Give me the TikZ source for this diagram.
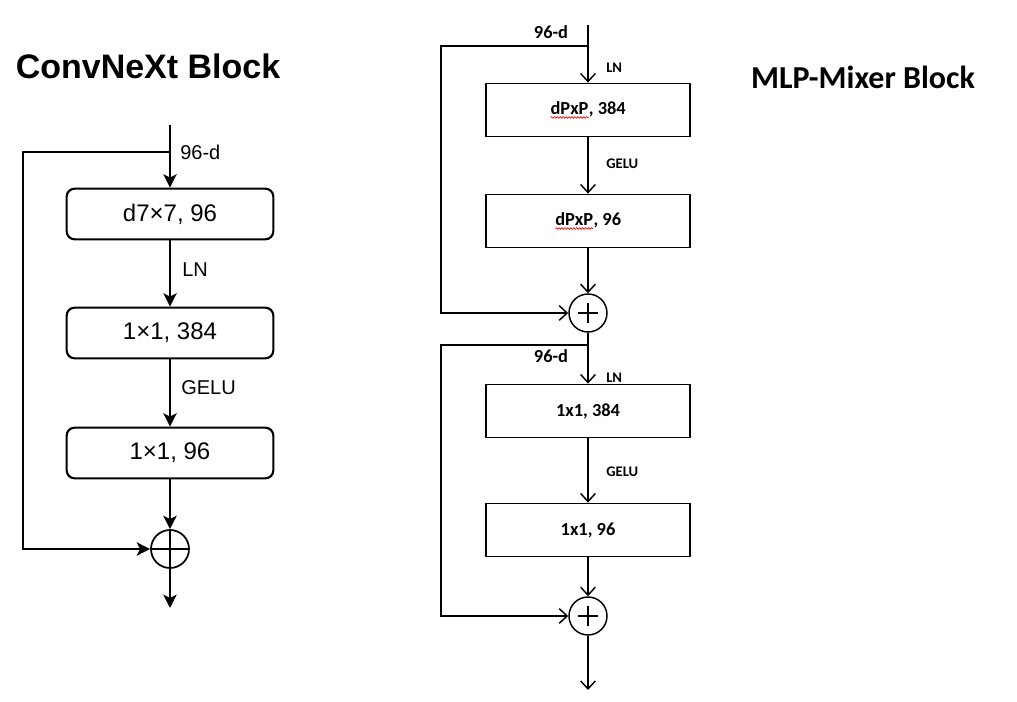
\documentclass[tikz,border=0pt]{standalone}
\usepackage{fontspec}
\usepackage{tikz}
\usetikzlibrary{arrows.meta,calc,positioning,decorations.pathmorphing}

\newfontfamily\lsans{Liberation Sans}
\newfontfamily\carl{Carlito}
\newcommand\squig[1]{\tikz[baseline=(w.base), x=1pt, y=1pt]{%
    \node[draw=none, inner sep=0pt, outer sep=0pt, minimum width=0pt, minimum height=0pt] (w) {#1};
    \draw[red, line width=0.5pt, decorate, decoration={snake, amplitude=0.6pt, segment length=2.2pt}]
        ($(w.base west)+(0,-2.4pt)$) -- ($(w.base east)+(0,-2.4pt)$);}}

\tikzset{
    cbox/.style={draw, line width=1.6pt, rounded corners=6pt, minimum width=155pt,
        minimum height=38pt, font=\lsans\fontsize{18}{20}\selectfont},
    clab/.style={anchor=west, inner sep=0pt, font=\lsans\fontsize{15}{17}\selectfont},
    carrow/.style={line width=1.6pt, -{Stealth[length=10pt,width=10pt,inset=2.5pt]}},
    csum/.style={draw, line width=1.3pt, circle, minimum size=28.5pt, inner sep=0pt,
        path picture={\draw[line width=1.3pt] (path picture bounding box.north) -- (path picture bounding box.south)
            (path picture bounding box.west) -- (path picture bounding box.east);}},
    mbox/.style={draw, line width=1.1pt, minimum width=153pt, minimum height=40pt,
        font=\carl\bfseries\fontsize{13.8}{16}\selectfont},
    mlab/.style={anchor=west, inner sep=0pt, font=\carl\bfseries\fontsize{11}{13}\selectfont},
    mdim/.style={font=\carl\bfseries\fontsize{13.8}{16}\selectfont},
    marrow/.style={line width=1.1pt, -{Straight Barb[length=6pt,width=11pt]}},
    msum/.style={draw, line width=1.1pt, circle, minimum size=28.5pt, inner sep=0pt,
        path picture={\draw[line width=1.5pt] ($(path picture bounding box.center)+(-7.5pt,0)$) -- ++(15pt,0)
            ($(path picture bounding box.center)+(0,-7.5pt)$) -- ++(0,15pt);}},
}

\begin{document}
\begin{tikzpicture}[x=0.75pt, y=-0.75pt]

\useasboundingbox (0,0) rectangle (1017,702);

% ConvNeXt block
\node[font=\lsans\bfseries\fontsize{25.5}{28}\selectfont] (ctitle) at (148,66) {ConvNeXt Block};

\coordinate (cin) at (170,125);
\coordinate (csplit) at (170,152);
\node[cbox] (c1) at (170,214) {d7×7, 96};
\node[cbox] (c2) at (170,333) {1×1, 384};
\node[cbox] (c3) at (170,453) {1×1, 96};
\node[csum] (cs) at (170,549) {};
\coordinate (cout) at (170,608);

\node[clab] (cdim) at (180,152) {96-d};
\node[clab] (cln) at (182,270) {LN};
\node[clab] (cgelu) at (181,388) {GELU};

\draw[carrow] (cin) -- (c1);
\draw[carrow] (c1) -- (c2);
\draw[carrow] (c2) -- (c3);
\draw[carrow] (c3) -- (cs);
\draw[carrow] (cs) -- (cout);
\draw[carrow] (csplit) -- ++(-147,0) |- (cs);

% MLP-Mixer block
\node[font=\carl\bfseries\fontsize{24}{28}\selectfont] (mtitle) at (863,77) {MLP-Mixer Block};

\coordinate (min) at (588,25);
\coordinate (msplit1) at (588,46);
\node[mbox] (m1) at (588,110) {\squig{dPxP}, 384};
\node[mbox] (m2) at (588,221) {\squig{dPxP}, 96};
\node[msum] (ms1) at (588,313) {};
\coordinate (msplit2) at (588,345);
\node[mbox] (m3) at (588,411) {1x1, 384};
\node[mbox] (m4) at (588,530) {1x1, 96};
\node[msum] (ms2) at (588,616) {};
\coordinate (mout) at (588,690);

\node[mdim] (mdim1) at (551,32) {96-d};
\node[mlab] (mln1) at (606,68) {LN};
\node[mlab] (mgelu1) at (606,164) {GELU};
\node[mdim] (mdim2) at (551,356) {96-d};
\node[mlab] (mln2) at (606,378) {LN};
\node[mlab] (mgelu2) at (606,472) {GELU};

\draw[marrow] (min) -- (m1);
\draw[marrow] (m1) -- (m2);
\draw[marrow] (m2) -- (ms1);
\draw[marrow] (ms1) -- (m3);
\draw[marrow] (m3) -- (m4);
\draw[marrow] (m4) -- (ms2);
\draw[marrow] (ms2) -- (mout);
\draw[marrow] (msplit1) -- ++(-147,0) |- (ms1);
\draw[marrow] (msplit2) -- ++(-147,0) |- (ms2);

\end{tikzpicture}
\end{document}
